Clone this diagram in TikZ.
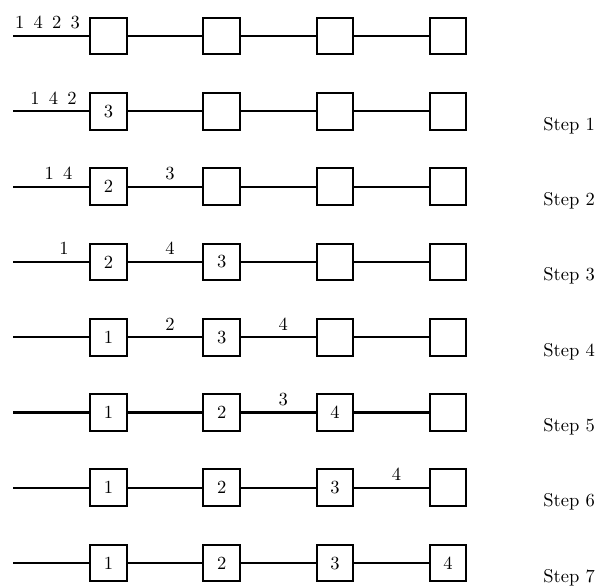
\documentclass[tikz,border=0pt]{standalone}
\begin{document}
\begin{tikzpicture}[x=0.54pt,y=-0.54pt,
  cell/.style={draw, line width=1.1pt, minimum size=19.8pt, inner sep=0pt, fill=white},
  wire/.style={line width=1.1pt},
  lbl/.style={inner sep=0pt, anchor=base},
  steplbl/.style={inner sep=0pt, anchor=base west}]
\useasboundingbox (0,0) rectangle (607,587);
\foreach \r/\ta/\tb/\tc/\td in {0/{}/{}/{}/{}, 1/3/{}/{}/{}, 2/2/{}/{}/{}, 3/2/3/{}/{},
  4/1/3/{}/{}, 5/1/2/4/{}, 6/1/2/3/{}, 7/1/2/3/4}{
  \pgfmathsetmacro\yy{36+75.3*\r}
  \coordinate (s\r) at (13,\yy);
  \node[cell] (b\r-1) at (108.5,\yy) {\ta};
  \node[cell] (b\r-2) at (221.7,\yy) {\tb};
  \node[cell] (b\r-3) at (334.9,\yy) {\tc};
  \node[cell] (b\r-4) at (448.1,\yy) {\td};
  \draw[wire] (s\r) -- (b\r-1.west) (b\r-1.east) -- (b\r-2.west)
    (b\r-2.east) -- (b\r-3.west) (b\r-3.east) -- (b\r-4.west);
}
\foreach \r in {1,...,7}{
  \pgfmathsetmacro\yy{36+75.3*\r+19}
  \node[steplbl] (st\r) at (543,\yy) {Step \r};
}
% queue labels on the wires
\node[lbl] (q0) at (47.5,29) {1\enskip 4\enskip 2\enskip 3};
\node[lbl] (q1) at (53.5,104.3) {1\enskip 4\enskip 2};
\node[lbl] (q2) at (58.5,179.6) {1\enskip 4};
\node[lbl] (q3a) at (64,254.9) {1};
\node[lbl] (q2b) at (170,179.6) {3};
\node[lbl] (q3b) at (170,254.9) {4};
\node[lbl] (q4b) at (170,330.2) {2};
\node[lbl] (q4c) at (283.2,330.2) {4};
\node[lbl] (q5c) at (283.2,405.5) {3};
\node[lbl] (q6d) at (396.4,480.8) {4};
\end{tikzpicture}
\end{document}
